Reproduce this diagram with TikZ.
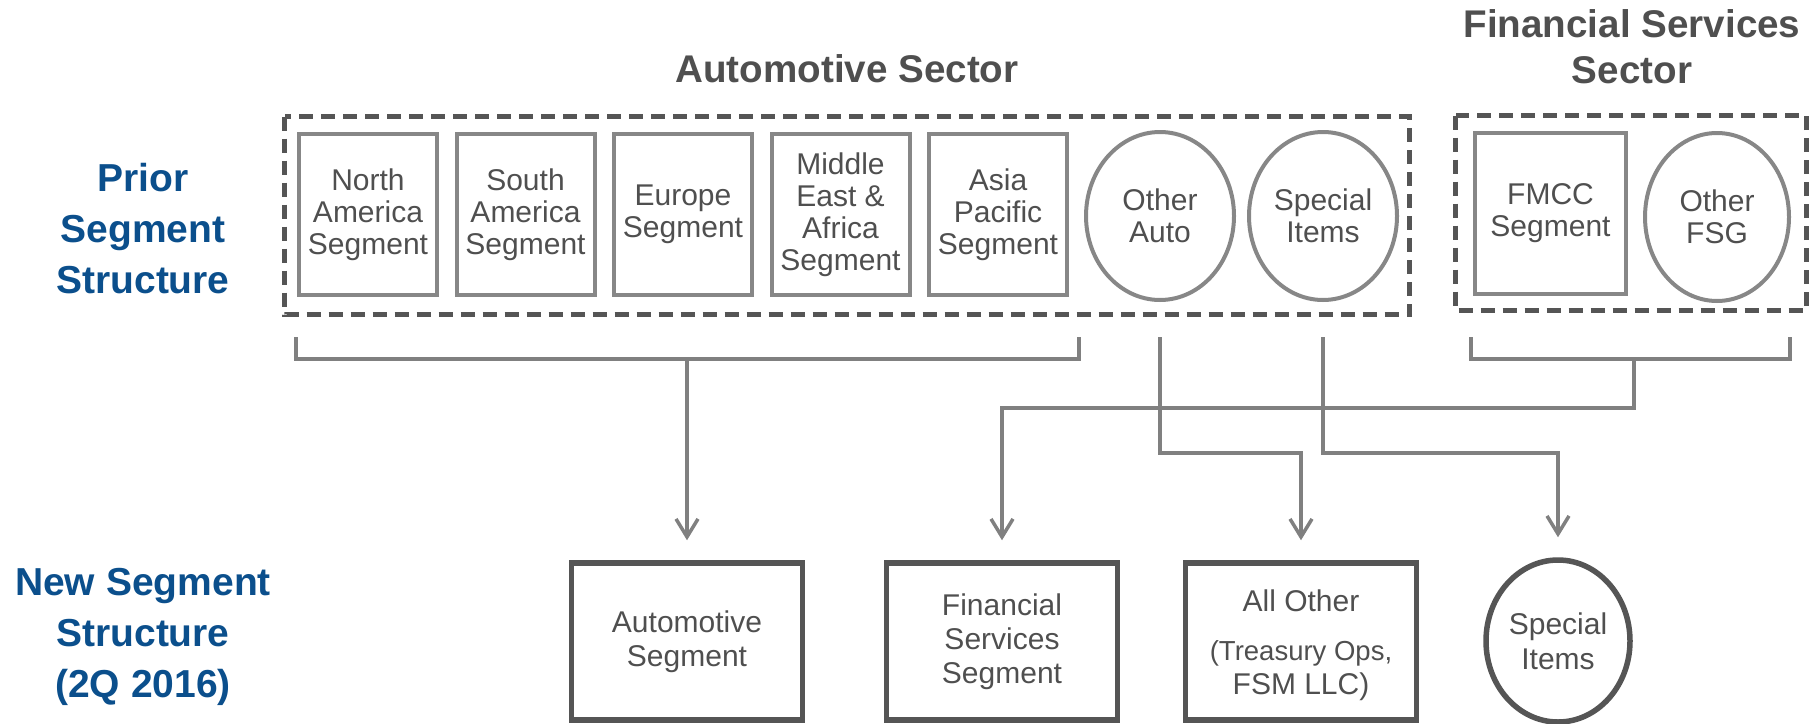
\documentclass[tikz,border=0pt]{standalone}
\usepackage{fontspec}
\setmainfont{Liberation Sans}
\usetikzlibrary{shapes.geometric,arrows.meta}
\definecolor{txtgray}{HTML}{4F4F4F}
\definecolor{labelblue}{HTML}{0B4F8C}
\definecolor{linkgray}{HTML}{808080}
\definecolor{edgegray}{HTML}{878787}
\definecolor{darkgray}{HTML}{555555}

\begin{document}
\begin{tikzpicture}[x=1pt,y=-1pt,
  every node/.style={text=txtgray, align=center, inner sep=0pt},
  oldbox/.style={draw=edgegray, line width=4pt, minimum width=138pt, minimum height=161pt,
    font=\fontsize{30}{32}\selectfont},
  oldoval/.style={ellipse, draw=edgegray, line width=4pt, minimum width=148pt, minimum height=168pt,
    font=\fontsize{30}{32}\selectfont},
  newbox/.style={draw=darkgray, line width=5.5pt, minimum width=231pt, minimum height=157pt,
    font=\fontsize{30}{34}\selectfont},
  newoval/.style={ellipse, draw=darkgray, line width=5.5pt, minimum width=144pt, minimum height=162pt,
    font=\fontsize{30}{35}\selectfont},
  sector/.style={draw=darkgray, line width=5pt, dash pattern=on 14pt off 8pt},
  heading/.style={font=\bfseries\fontsize{38.6}{46}\selectfont},
  rowlabel/.style={text=labelblue, font=\bfseries\fontsize{39}{51}\selectfont},
  link/.style={draw=linkgray, line width=3.5pt},
  feed/.style={link, -{Straight Barb[length=18pt,width=22pt]}, shorten >=20pt},
]
\useasboundingbox (0,0) rectangle (1810,723);
\clip (0,0) rectangle (1810,723);

% row labels
\node[rowlabel] (prior) at (143,228.5) {Prior\\Segment\\Structure};
\node[rowlabel] (new) at (143,637) {New Segment\\Structure\\(2Q 2016)};

% sector headings
\node[heading] (autohead) at (847,69) {Automotive Sector};
\node[heading] (fshead) at (1632,47) {Financial Services\\Sector};

% sector frames
\draw[sector] (284.5,116.5) rectangle (1409.5,314.5);
\draw[sector] (1455.5,115.5) rectangle (1806,310.5);

% prior segments
\node[oldbox] (na) at (368,214.5) {North\\America\\Segment};
\node[oldbox] (sa) at (525.5,214.5) {South\\America\\Segment};
\node[oldbox] (eu) at (683,214.5) {Europe\\Segment};
\node[oldbox] (mea) at (840.5,214.5) {Middle\\East \&\\Africa\\Segment};
\node[oldbox] (ap) at (998,214.5) {Asia\\Pacific\\Segment};
\node[oldoval] (oa) at (1160,216) {Other\\Auto};
\node[oldoval] (si) at (1323,216) {Special\\Items};
\node[oldbox, minimum width=151pt] (fmcc) at (1550.5,213.5) {FMCC\\Segment};
\node[oldoval, minimum width=144pt] (ofsg) at (1717,217) {Other\\FSG};

% new segments
\node[newbox] (auto) at (687,641.5) {Automotive\\Segment};
\node[newbox] (fsseg) at (1002,641.5) {Financial\\Services\\Segment};
\node[newbox] (allother) at (1301,641.5) {\rule{0pt}{30pt}All Other\\[15pt]\fontsize{27.5}{35}\selectfont(Treasury Ops,\\FSM LLC)};
\node[newoval] (spec) at (1558,641) {Special\\Items};

% brackets and flows
\coordinate (brA1) at (296,337);
\coordinate (brA2) at (1079,337);
\coordinate (brAmid) at (687,359);
\draw[link] (brA1) |- (brAmid) -| (brA2);
\draw[feed] (brAmid) -- (auto.north);

\coordinate (brF1) at (1471,337);
\coordinate (brF2) at (1790,337);
\coordinate (brFmid) at (1634,359);
\draw[link] (brF1) |- (brFmid) -| (brF2);
\draw[feed] (brFmid) -- ++(0,49) -| (fsseg.north);

\draw[feed] ([yshift=-35pt]oa.south) -- ++(0,116) -| (allother.north);
\draw[feed] ([yshift=-35pt]si.south) -- ++(0,116) -| (spec.north);
\end{tikzpicture}
\end{document}
